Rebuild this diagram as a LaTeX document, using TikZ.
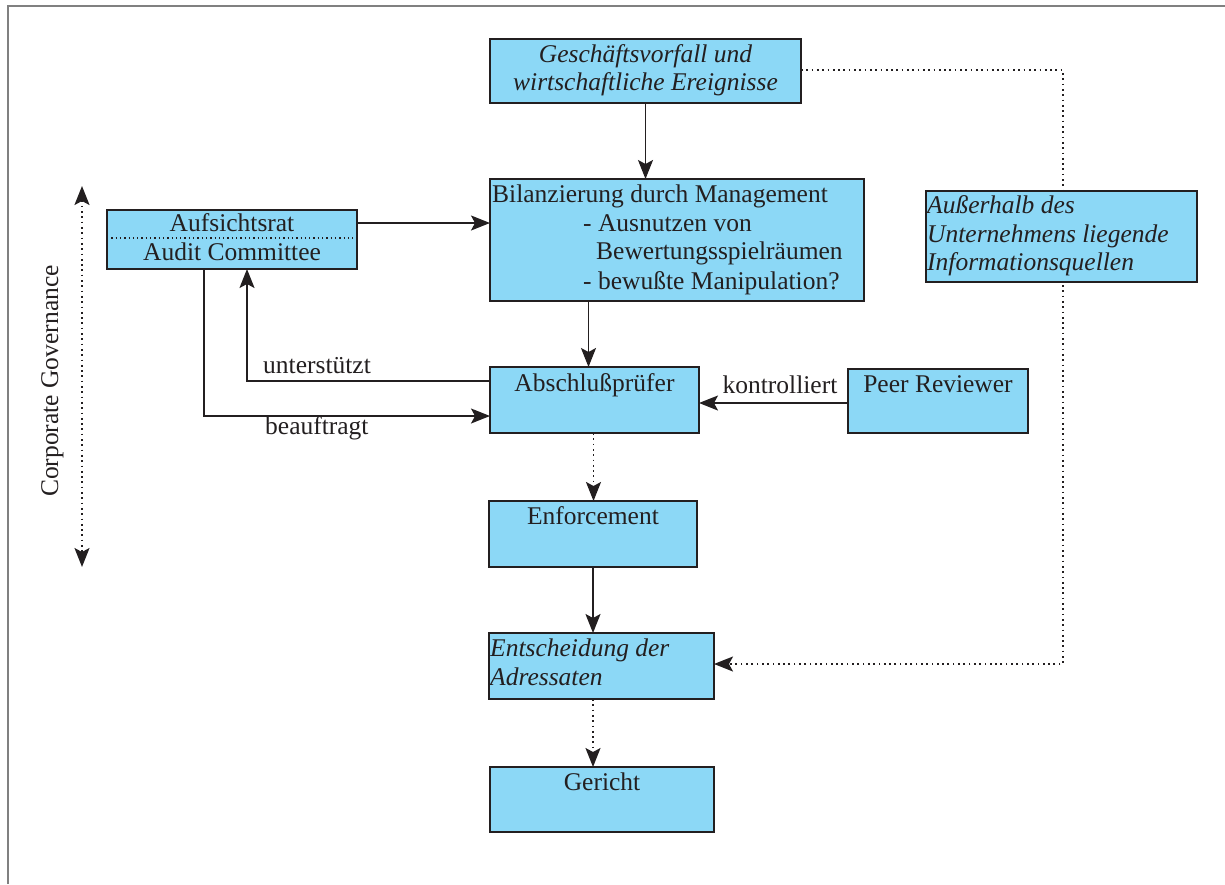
\documentclass[tikz,border=0pt]{standalone}
\usepackage{fontspec}
\setmainfont{Liberation Serif}
\usetikzlibrary{arrows.meta,calc}
\definecolor{boxblue}{RGB}{140,216,246}
\definecolor{ink}{RGB}{35,31,32}
\begin{document}
\begin{tikzpicture}[x=1pt,y=-1pt,
 box/.style={draw=ink, line width=1.5pt, fill=boxblue, anchor=north west, inner sep=0pt, outer sep=0pt},
 txt/.style={inner sep=0pt, text=ink, font=\fontsize{25.5}{29}\selectfont},
 itxt/.style={inner sep=0pt, text=ink, font=\fontsize{25.5}{29}\selectfont\itshape},
 conn/.style={draw=ink, line width=1.4pt},
 tip/.tip={Stealth[length=19pt,width=15pt,inset=4pt]},
 arr/.style={conn, -tip},
 dotln/.style={draw=ink, line width=1.6pt, dash pattern=on 1.7pt off 3.6pt},
 dotarr/.style={dotln, -tip},
]
\useasboundingbox (0,0) rectangle (1225,884);
\fill[white] (0,0) rectangle (1225,884);
\draw[draw=black!50, line width=1.5pt] (8,884) -- (8,6) -- (1225,6);

% boxes
\node[box, minimum width=311pt, minimum height=64pt] (gesch) at (490,39) {};
\node[box, minimum width=374pt, minimum height=122pt] (bilanz) at (490,179) {};
\node[box, minimum width=250pt, minimum height=59pt] (aufs) at (107,210) {};
\node[box, minimum width=209pt, minimum height=66pt] (abschl) at (490,367) {};
\node[box, minimum width=180pt, minimum height=64pt] (peer) at (848,369) {};
\node[box, minimum width=208pt, minimum height=66pt] (enf) at (489,501) {};
\node[box, minimum width=225pt, minimum height=66pt] (ent) at (489,633) {};
\node[box, minimum width=224pt, minimum height=65pt] (ger) at (490,767) {};

% connectors
\draw[arr] (gesch.south) -- (gesch.south |- bilanz.north);
\coordinate (a1) at ($(aufs.north east)+(0,13)$);
\draw[arr] (a1) -- (a1 -| bilanz.west);
\draw[arr] ([xshift=-6pt]abschl.north |- bilanz.south) -- ([xshift=-6pt]abschl.north);
\coordinate (u1) at ($(abschl.north west)+(0,14)$);
\draw[arr] (u1) -| ($(aufs.south west)+(140,0)$);
\draw[arr] ($(aufs.south west)+(97,0)$) |- ($(abschl.north west)+(0,49)$);
\coordinate (k1) at ($(peer.north west)+(0,34)$);
\draw[arr] (k1) -- (k1 -| abschl.east);
\draw[dotarr] ([xshift=-1pt]abschl.south) -- ([xshift=-1pt]abschl.south |- enf.north);
\draw[arr] (enf.south) -- (enf.south |- ent.north);
\draw[dotarr] (enf.south |- ent.south) -- (enf.south |- ger.north);
\coordinate (g1) at ($(gesch.north east)+(0,31)$);
\coordinate (ecorner) at ($(ent.north east)+(349,31)$);
\draw[dotarr] (g1) -| (ecorner) -- (ecorner -| ent.east);
\coordinate (cg1) at (82,186);
\coordinate (cg2) at (82,567);
\draw[dotln, tip-tip] (cg1) -- (cg2);

% box drawn over the dotted line
\node[box, minimum width=271pt, minimum height=91pt] (auss) at (926,191) {};
\draw[ink, line width=1.1pt, dash pattern=on 1.3pt off 3pt] ($(aufs.north west)+(0,28)$) -- ($(aufs.north east)+(0,28)$);

% texts
\node[itxt, anchor=base] (t-g1) at (645.5,62) {Geschäftsvorfall und};
\node[itxt, anchor=base] (t-g2) at (645.5,90) {wirtschaftliche Ereignisse};
\node[txt, anchor=base west] (t-b1) at (492,202) {Bilanzierung durch Management};
\node[txt, anchor=base west] (t-b2) at (583,231) {- Ausnutzen von};
\node[txt, anchor=base west] (t-b3) at (596,259) {Bewertungsspielräumen};
\node[txt, anchor=base west] (t-b4) at (583,289) {- bewußte Manipulation?};
\node[txt, anchor=base] (t-a1) at (232,231) {Aufsichtsrat};
\node[txt, anchor=base] (t-a2) at (232,260) {Audit Committee};
\node[itxt, anchor=base west] (t-x1) at (927,213) {Außerhalb des};
\node[itxt, anchor=base west] (t-x2) at (927,242) {Unternehmens liegende};
\node[itxt, anchor=base west] (t-x3) at (927,270) {Informationsquellen};
\node[txt, anchor=base] (t-ab) at (594.5,391) {Abschlußprüfer};
\node[txt, anchor=base] (t-pr) at (938,392) {Peer Reviewer};
\node[txt, anchor=base] (t-en) at (593,524) {Enforcement};
\node[itxt, anchor=base west] (t-e1) at (490,656) {Entscheidung der};
\node[itxt, anchor=base west] (t-e2) at (490,685) {Adressaten};
\node[txt, anchor=base] (t-ge) at (602,790) {Gericht};
\node[txt, anchor=base] (l-k) at (780,393) {kontrolliert};
\node[txt, anchor=base west] (l-u) at (263,373) {unterstützt};
\node[txt, anchor=base west] (l-b) at (265,434) {beauftragt};
\node[txt, anchor=base, rotate=90] (l-cg) at (58,381) {Corporate Governance};
\end{tikzpicture}
\end{document}
